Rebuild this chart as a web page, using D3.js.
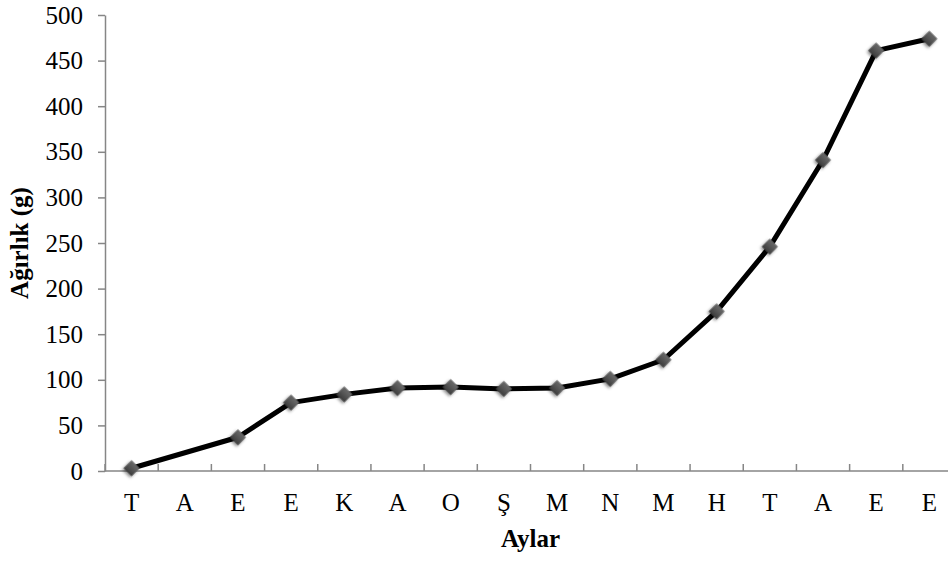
<!DOCTYPE html>
<html>
<head>
<meta charset="utf-8">
<script src="https://cdn.jsdelivr.net/npm/d3@7"></script>
<style>
  body { margin: 0; background: #fff; }
  svg { display: block; }
  svg text { font-family: "Liberation Serif", "Times New Roman", serif; }
</style>
</head>
<body>
<script>
// data
const months = ["T", "A", "E", "E", "K", "A", "O", "Ş", "M", "N", "M", "H", "T", "A", "E", "E"];
const weights = [3, null, 37, 75, 84, 91, 92, 90, 91, 101, 122, 175, 246, 341, 461, 474];
const yTicks = [0, 50, 100, 150, 200, 250, 300, 350, 400, 450, 500];

const W = 948, H = 561;
const margin = {top: 15, left: 105, bottom: 90};
const plotW = 851;   // the axis runs a bit past the picture edge
const axisColor = "#868686";

const svg = d3.select("body").append("svg")
    .attr("width", W)
    .attr("height", H);

const defs = svg.append("defs");
const grad = defs.append("linearGradient")
    .attr("id", "mk").attr("x1", 0).attr("y1", 0).attr("x2", 0).attr("y2", 1);
grad.append("stop").attr("offset", "0%").attr("stop-color", "#6a6a6a");
grad.append("stop").attr("offset", "50%").attr("stop-color", "#555");
grad.append("stop").attr("offset", "100%").attr("stop-color", "#3c3c3c");
const shadow = defs.append("filter").attr("id", "sh")
    .attr("x", "-50%").attr("y", "-50%").attr("width", "200%").attr("height", "200%");
shadow.append("feDropShadow")
    .attr("dx", 0).attr("dy", 2).attr("stdDeviation", 1.8)
    .attr("flood-color", "#000").attr("flood-opacity", 0.45);

const x = d3.scaleBand()
    .domain(d3.range(months.length))
    .range([margin.left, margin.left + plotW]);

const y = d3.scaleLinear()
    .domain([0, 500])
    .range([H - margin.bottom, margin.top]);

// y axis
const yAxis = svg.append("g")
    .attr("transform", "translate(" + margin.left + ",0)")
    .call(d3.axisLeft(y).tickValues(yTicks).tickSize(7).tickSizeOuter(0).tickPadding(15))
    .attr("font-family", null)
    .attr("font-size", null);
yAxis.select(".domain").attr("stroke", axisColor).attr("stroke-width", 1.5);
yAxis.selectAll(".tick line").attr("stroke", axisColor).attr("stroke-width", 1.5);
yAxis.selectAll(".tick text")
    .attr("fill", "#000")
    .style("font-size", "25px");

// x axis: ticks between categories, drawn inward
const xAxis = svg.append("g")
    .attr("transform", "translate(0," + y(0) + ")");
xAxis.append("line")
    .attr("x1", margin.left).attr("x2", margin.left + plotW)
    .attr("stroke", axisColor).attr("stroke-width", 1.5);
xAxis.selectAll(".xt")
    .data(d3.range(months.length + 1))
    .enter().append("line")
    .attr("class", "xt")
    .attr("x1", d => margin.left + d * x.step())
    .attr("x2", d => margin.left + d * x.step())
    .attr("y1", 0).attr("y2", -7)
    .attr("stroke", axisColor).attr("stroke-width", 1.5);
xAxis.selectAll(".xl")
    .data(months)
    .enter().append("text")
    .attr("class", "xl")
    .attr("x", (d, i) => x(i) + x.bandwidth() / 2)
    .attr("y", 40)
    .attr("text-anchor", "middle")
    .style("font-size", "25px")
    .text(d => d);

// axis titles
svg.append("text")
    .attr("x", margin.left + plotW / 2)
    .attr("y", 547)
    .attr("text-anchor", "middle")
    .style("font-size", "25px")
    .style("font-weight", "bold")
    .text("Aylar");

svg.append("text")
    .attr("transform", "translate(28," + ((y(0) + y(500)) / 2) + ") rotate(-90)")
    .attr("text-anchor", "middle")
    .style("font-size", "25px")
    .style("font-weight", "bold")
    .text("Ağırlık (g)");

// line (missing month is bridged)
const pts = weights.map((v, i) => ({i: i, v: v})).filter(d => d.v !== null);

const line = d3.line()
    .x(d => x(d.i) + x.bandwidth() / 2)
    .y(d => y(d.v));

svg.append("path")
    .datum(pts)
    .attr("d", line)
    .attr("fill", "none")
    .attr("stroke", "#000")
    .attr("stroke-width", 5)
    .attr("stroke-linejoin", "round");

svg.selectAll(".mk")
    .data(pts)
    .enter().append("path")
    .attr("class", "mk")
    .attr("d", d3.symbol().type(d3.symbolSquare).size(130))
    .attr("transform", d => "translate(" + (x(d.i) + x.bandwidth() / 2) + "," + y(d.v) + ") rotate(45)")
    .attr("fill", "url(#mk)")
    .attr("filter", "url(#sh)");
</script>
</body>
</html>
